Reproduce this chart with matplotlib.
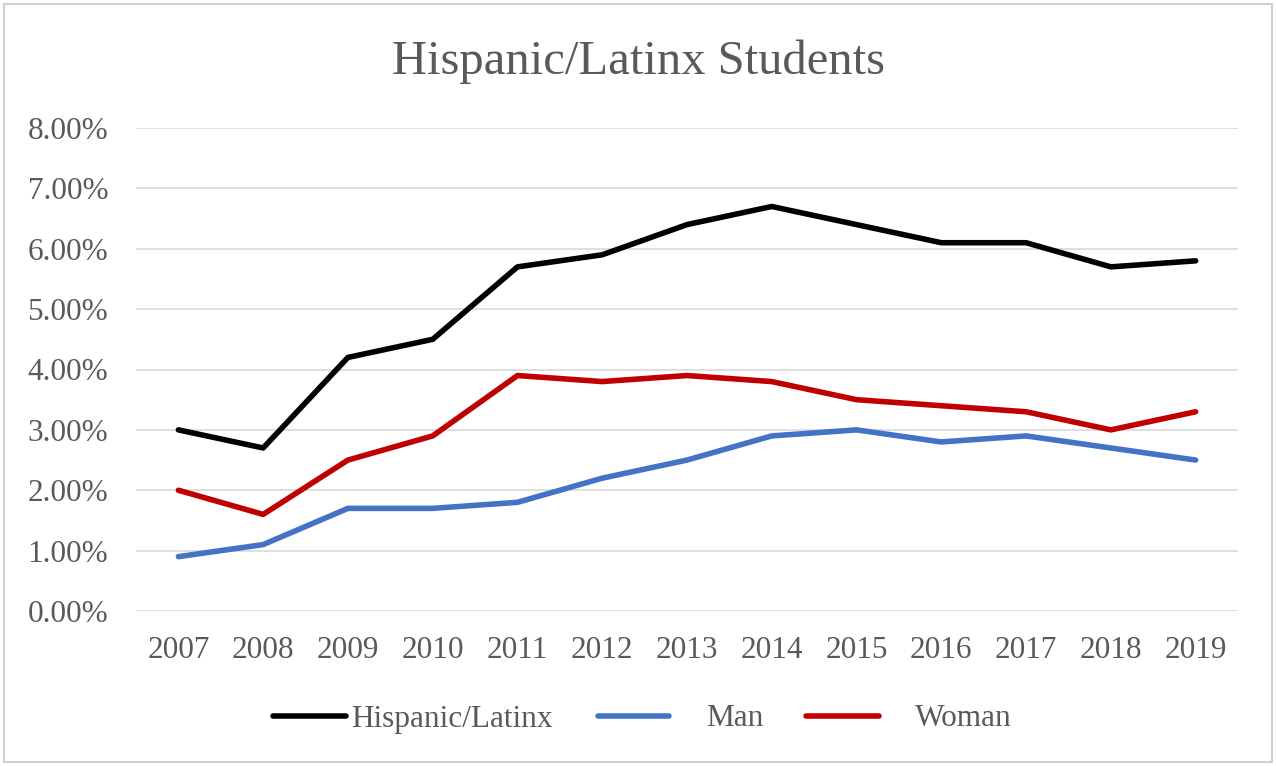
import matplotlib.pyplot as plt
from matplotlib.lines import Line2D
from matplotlib.patches import Rectangle
from matplotlib.ticker import FuncFormatter

years = ["2007", "2008", "2009", "2010", "2011", "2012", "2013",
         "2014", "2015", "2016", "2017", "2018", "2019"]
hispanic = [3.0, 2.7, 4.2, 4.5, 5.7, 5.9, 6.4, 6.7, 6.4, 6.1, 6.1, 5.7, 5.8]
man = [0.9, 1.1, 1.7, 1.7, 1.8, 2.2, 2.5, 2.9, 3.0, 2.8, 2.9, 2.7, 2.5]
woman = [2.0, 1.6, 2.5, 2.9, 3.9, 3.8, 3.9, 3.8, 3.5, 3.4, 3.3, 3.0, 3.3]
series_names = ["Hispanic/Latinx", "Man", "Woman"]
y_ticks = [0, 1, 2, 3, 4, 5, 6, 7, 8]

colors = ["#000000", "#4472C4", "#C00000"]
text_color = "#595959"
plt.rcParams["font.family"] = ["Liberation Serif", "DejaVu Serif"]

fig = plt.figure(figsize=(12.76, 7.66), dpi=100)
ax = fig.add_axes([136 / 1276, 1 - 611 / 766, 1102 / 1276, 483 / 766])

x = list(range(len(years)))
for vals, c in zip([hispanic, man, woman], colors):
    ax.plot(x, vals, color=c, lw=4.0, solid_capstyle="round",
            solid_joinstyle="round", zorder=3)

ax.set_xlim(-0.5, len(years) - 0.5)
ax.set_ylim(0, 8)
ax.set_yticks(y_ticks)
ax.yaxis.set_major_formatter(FuncFormatter(lambda v, p: f"{v:.2f}%"))
ax.set_xticks(x)
ax.set_xticklabels(years)
ax.grid(axis="y", color="#D9D9D9", lw=1.2)
ax.set_axisbelow(True)
for s in ax.spines.values():
    s.set_visible(False)
ax.tick_params(length=0, labelsize=22.5, colors=text_color)
ax.tick_params(axis="x", pad=18)
ax.tick_params(axis="y", pad=20)

fig.text(0.5, 1 - 62 / 766, "Hispanic/Latinx Students", ha="center",
         va="center", fontsize=35, color=text_color)

# legend drawn by hand: line handle followed by its label
legend_y = 1 - 716 / 766
handles = [(273, 346, 351), (598, 669, 706), (806, 879, 915)]
for (x0, x1, tx), name, c in zip(handles, series_names, colors):
    fig.add_artist(Line2D([x0 / 1276, x1 / 1276], [legend_y, legend_y],
                          color=c, lw=4.0, solid_capstyle="round"))
    fig.text(tx / 1276, legend_y - 3 / 766, name, ha="left", va="center",
             fontsize=22.5, color=text_color)

fig.add_artist(Rectangle((4 / 1276, 4 / 766), 1268 / 1276, 758 / 766,
                         transform=fig.transFigure, fill=False,
                         edgecolor="#D0D0D0", lw=1.5))

fig.savefig("out.png", dpi=100, facecolor="white")
